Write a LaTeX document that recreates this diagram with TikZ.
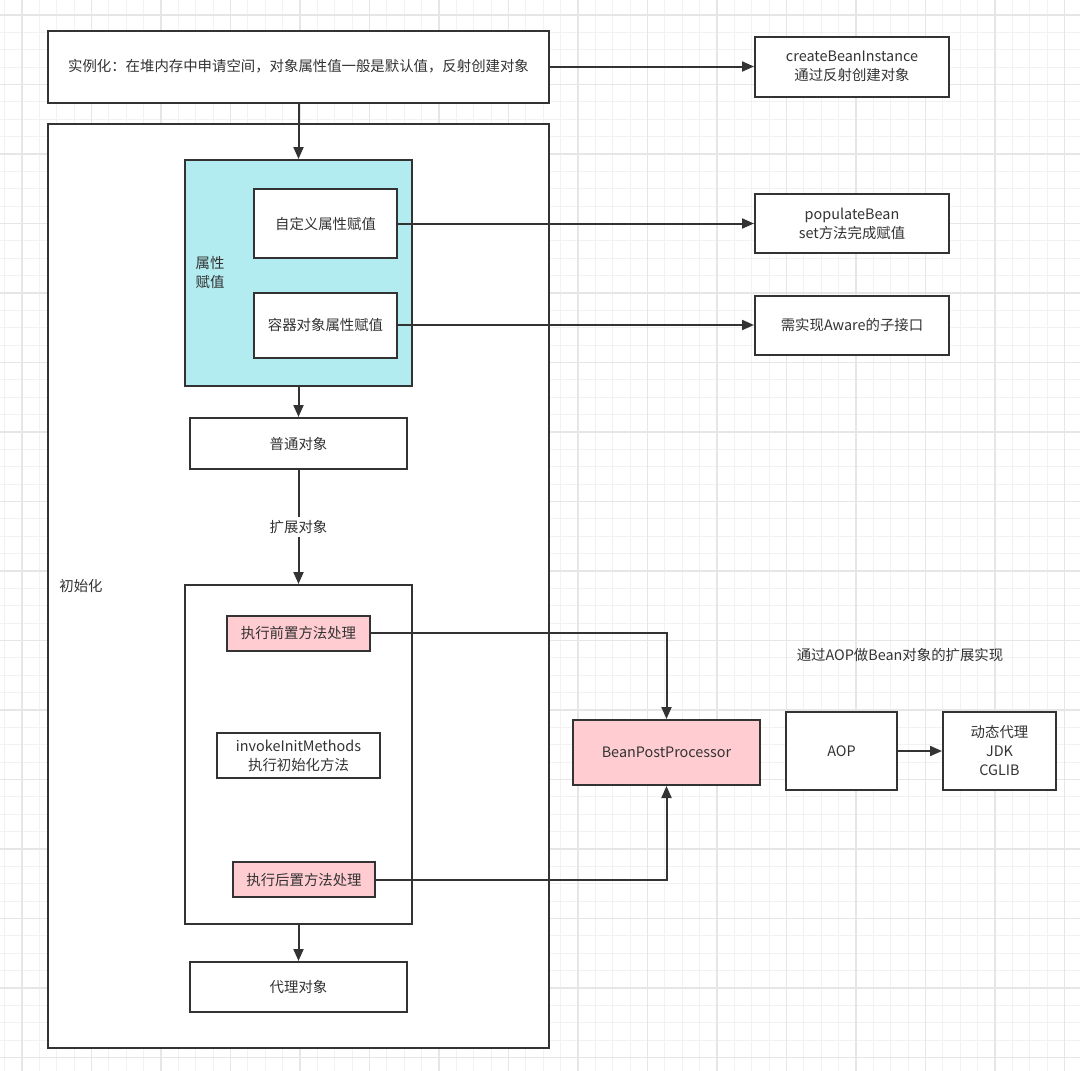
\documentclass[tikz,border=0pt]{standalone}
\usepackage{fontspec}
\setmainfont{Noto Sans CJK SC}
\usetikzlibrary{arrows.meta}
\definecolor{ink}{HTML}{333333}
\definecolor{attrcyan}{HTML}{B2EBF0}
\definecolor{hookpink}{HTML}{FFCCD1}
\definecolor{gridminor}{HTML}{F2F2F2}
\definecolor{gridmajor}{HTML}{E6E6E6}
\begin{document}
\begin{tikzpicture}[x=1pt,y=-1pt,
        box/.style={draw=ink,line width=2pt,fill=white,inner sep=0pt,text=ink,align=center,
            font=\fontsize{14.4}{19}\selectfont},
        hook/.style={box,fill=hookpink},
        note/.style={text=ink,inner sep=0pt,align=left,font=\fontsize{14.4}{19}\selectfont},
        flow/.style={draw=ink,line width=2pt,-{Triangle[length=12pt,width=10pt]}}]
        \useasboundingbox (0,0) rectangle (1080,1071);
        \fill[white] (0,0) rectangle (1080,1071);

        % grid
        \begin{scope}
        \clip (0,0) rectangle (1080,1071);
        \foreach \i in {0,...,62} {
            \draw[gridminor,line width=1pt] ({4.6+17.375*\i},0) -- ++(0,1071);
            \draw[gridminor,line width=1pt] (0,{-2.4+17.375*\i}) -- ++(1080,0);
        }
        \foreach \i in {0,...,15} {
            \draw[gridmajor,line width=1.5pt] ({22+69.5*\i},0) -- ++(0,1071);
            \draw[gridmajor,line width=1.5pt] (0,{15+69.5*\i}) -- ++(1080,0);
        }
        \end{scope}

        \node[box,minimum width=501pt,minimum height=72pt] (inst) at (298.5,66.5)
            {实例化：在堆内存中申请空间，对象属性值一般是默认值，反射创建对象};
        \node[box,minimum width=194pt,minimum height=60pt] (create) at (852,66.5)
            {createBeanInstance\\通过反射创建对象};

        \node[box,minimum width=501pt,minimum height=924pt] (init) at (298.5,586) {};
        \node[note] (initlabel) at (81,586) {初始化};

        \node[box,fill=attrcyan,minimum width=227pt,minimum height=226pt] (attr) at (298.5,273) {};
        \node[note] (attrlabel) at (210,273) {属性\\赋值};
        \node[box,minimum width=143pt,minimum height=69pt] (custom) at (325.5,223.5) {自定义属性赋值};
        \node[box,minimum width=143pt,minimum height=65pt] (cont) at (325.5,325) {容器对象属性赋值};
        \node[box,minimum width=194pt,minimum height=59pt] (populate) at (852,223.5)
            {populateBean\\set方法完成赋值};
        \node[box,minimum width=194pt,minimum height=59pt] (aware) at (852,325) {需实现Aware的子接口};

        \node[box,minimum width=217pt,minimum height=51pt] (plain) at (298.5,443.5) {普通对象};

        \node[box,minimum width=227pt,minimum height=339pt] (ext) at (298.5,754.5) {};
        \node[hook,minimum width=143pt,minimum height=35pt] (pre) at (298.5,633) {执行前置方法处理};
        \node[box,minimum width=163pt,minimum height=45pt] (invoke) at (298.5,755.5)
            {invokeInitMethods\\执行初始化方法};
        \node[hook,minimum width=142pt,minimum height=35pt] (post) at (304,879.5) {执行后置方法处理};

        \node[box,minimum width=217pt,minimum height=50pt] (proxy) at (298.5,987) {代理对象};

        \node[hook,minimum width=187pt,minimum height=65pt] (bpp) at (666.5,752.5) {BeanPostProcessor};
        \node[note] (aopnote) at (900,655) {通过AOP做Bean对象的扩展实现};
        \node[box,minimum width=111pt,minimum height=78pt] (aop) at (841.5,751) {AOP};
        \node[box,minimum width=113pt,minimum height=78pt] (dyn) at (999.5,751) {动态代理\\JDK\\CGLIB};

        \draw[flow] (inst) -- (create);
        \draw[flow] (inst) -- (attr);
        \draw[flow] (custom) -- (populate);
        \draw[flow] (cont) -- (aware);
        \draw[flow] (attr) -- (plain);
        \draw[flow] (plain) -- node[fill=white,text=ink,inner sep=3pt,font=\fontsize{14.4}{19}\selectfont] (extlabel) {扩展对象} (ext);
        \draw[flow] (pre) -| (bpp);
        \draw[flow] (post) -| (bpp);
        \draw[flow] (aop) -- (dyn);
        \draw[flow] (ext) -- (proxy);
    \end{tikzpicture}
\end{document}
